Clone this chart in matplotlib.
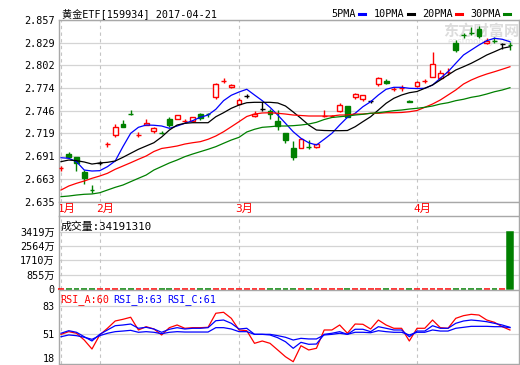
import matplotlib
matplotlib.use('Agg')
import matplotlib.pyplot as plt
from matplotlib.patches import Rectangle
from matplotlib.lines import Line2D

plt.rcParams['font.family'] = ['DejaVu Sans Mono', 'Noto Sans CJK SC']

# --- DATA ---
title = '黄金ETF[159934] 2017-04-21'
month_labels = ['1月', '2月', '3月', '4月']
month_first = [0, 5, 23, 46]

opens = [2.6758, 2.6936, 2.6895, 2.6720, 2.6499, 2.6822, 2.7051, 2.7167, 2.7301, 2.7426,
         2.7168, 2.7289, 2.7216, 2.7191, 2.7359, 2.7366, 2.7335, 2.7342, 2.7423, 2.7423,
         2.7634, 2.7823, 2.7749, 2.7542, 2.7643, 2.7403, 2.7484, 2.7460, 2.7342, 2.7188,
         2.7005, 2.7012, 2.7028, 2.7017, 2.7396, 2.7396, 2.7464, 2.7521, 2.7627, 2.7603,
         2.7578, 2.7789, 2.7830, 2.7725, 2.7738, 2.7582, 2.7769, 2.7823, 2.7878, 2.7859,
         2.7929, 2.8293, 2.8390, 2.8411, 2.8457, 2.8293, 2.8321, 2.8277, 2.8268]
highs = [2.6789, 2.6964, 2.6903, 2.6740, 2.6557, 2.6854, 2.7078, 2.7301, 2.7350, 2.7472,
         2.7204, 2.7359, 2.7268, 2.7220, 2.7383, 2.7415, 2.7359, 2.7387, 2.7439, 2.7439,
         2.7798, 2.7859, 2.7789, 2.7622, 2.7667, 2.7464, 2.7573, 2.7481, 2.7472, 2.7195,
         2.7098, 2.7134, 2.7106, 2.7063, 2.7472, 2.7411, 2.7561, 2.7525, 2.7676, 2.7655,
         2.7600, 2.7878, 2.7854, 2.7749, 2.7777, 2.7594, 2.7830, 2.7850, 2.8183, 2.7960,
         2.7988, 2.8326, 2.8415, 2.8488, 2.8497, 2.8347, 2.8363, 2.8293, 2.8305]
lows = [2.6732, 2.6883, 2.6732, 2.6566, 2.6463, 2.6801, 2.7025, 2.7147, 2.7261, 2.7417,
        2.7139, 2.7286, 2.7188, 2.7179, 2.7268, 2.7359, 2.7310, 2.7322, 2.7350, 2.7390,
        2.7610, 2.7798, 2.7737, 2.7530, 2.7619, 2.7390, 2.7464, 2.7359, 2.7228, 2.7066,
        2.6862, 2.7005, 2.6993, 2.7005, 2.7383, 2.7390, 2.7451, 2.7383, 2.7603, 2.7582,
        2.7558, 2.7765, 2.7789, 2.7708, 2.7708, 2.7564, 2.7756, 2.7798, 2.7871, 2.7847,
        2.7899, 2.8183, 2.8347, 2.8387, 2.8347, 2.8277, 2.8286, 2.8213, 2.8204]
closes = [2.6761, 2.6895, 2.6830, 2.6646, 2.6496, 2.6822, 2.7054, 2.7268, 2.7268, 2.7423,
          2.7171, 2.7317, 2.7256, 2.7188, 2.7289, 2.7408, 2.7338, 2.7383, 2.7375, 2.7420,
          2.7789, 2.7826, 2.7774, 2.7594, 2.7643, 2.7423, 2.7484, 2.7423, 2.7281, 2.7106,
          2.6903, 2.7115, 2.7025, 2.7057, 2.7399, 2.7399, 2.7533, 2.7390, 2.7667, 2.7652,
          2.7578, 2.7859, 2.7798, 2.7728, 2.7741, 2.7566, 2.7817, 2.7826, 2.8033, 2.7920,
          2.7932, 2.8204, 2.8387, 2.8408, 2.8375, 2.8318, 2.8318, 2.8277, 2.8265]

ma5 = [2.6890, 2.6883, 2.6842, 2.6740, 2.6728, 2.6732, 2.6781, 2.6850, 2.7025, 2.7188,
       2.7261, 2.7289, 2.7286, 2.7277, 2.7249, 2.7277, 2.7310, 2.7342, 2.7383, 2.7411,
       2.7481, 2.7586, 2.7652, 2.7692, 2.7725, 2.7655, 2.7586, 2.7505, 2.7411, 2.7310,
       2.7207, 2.7127, 2.7073, 2.7045, 2.7115, 2.7188, 2.7289, 2.7383, 2.7432, 2.7512,
       2.7573, 2.7655, 2.7725, 2.7749, 2.7749, 2.7737, 2.7734, 2.7737, 2.7777, 2.7859,
       2.7939, 2.8042, 2.8143, 2.8204, 2.8265, 2.8318, 2.8347, 2.8335, 2.8305]
ma10 = [2.6842, 2.6862, 2.6854, 2.6838, 2.6813, 2.6826, 2.6834, 2.6850, 2.6895, 2.6944,
        2.6993, 2.7033, 2.7073, 2.7143, 2.7228, 2.7289, 2.7310, 2.7317, 2.7317, 2.7317,
        2.7390, 2.7439, 2.7493, 2.7533, 2.7561, 2.7566, 2.7566, 2.7566, 2.7558, 2.7521,
        2.7448, 2.7371, 2.7289, 2.7228, 2.7222, 2.7220, 2.7220, 2.7222, 2.7268, 2.7330,
        2.7390, 2.7472, 2.7554, 2.7615, 2.7655, 2.7683, 2.7698, 2.7737, 2.7777, 2.7838,
        2.7899, 2.7960, 2.8000, 2.8042, 2.8091, 2.8143, 2.8183, 2.8225, 2.8244]
ma20 = [2.6496, 2.6545, 2.6578, 2.6606, 2.6639, 2.6667, 2.6700, 2.6749, 2.6789, 2.6829,
        2.6871, 2.6911, 2.6966, 2.7003, 2.7017, 2.7033, 2.7057, 2.7073, 2.7086, 2.7115,
        2.7155, 2.7207, 2.7268, 2.7330, 2.7393, 2.7423, 2.7436, 2.7439, 2.7432, 2.7423,
        2.7411, 2.7405, 2.7399, 2.7399, 2.7399, 2.7399, 2.7411, 2.7411, 2.7423, 2.7423,
        2.7432, 2.7432, 2.7439, 2.7439, 2.7442, 2.7451, 2.7466, 2.7505, 2.7545, 2.7594,
        2.7655, 2.7716, 2.7789, 2.7838, 2.7878, 2.7911, 2.7939, 2.7969, 2.8000]
ma30 = [2.6415, 2.6423, 2.6435, 2.6444, 2.6448, 2.6463, 2.6496, 2.6529, 2.6557, 2.6598,
        2.6639, 2.6679, 2.6740, 2.6783, 2.6826, 2.6862, 2.6903, 2.6935, 2.6964, 2.6993,
        2.7025, 2.7066, 2.7106, 2.7139, 2.7204, 2.7237, 2.7261, 2.7268, 2.7277, 2.7277,
        2.7281, 2.7289, 2.7301, 2.7322, 2.7356, 2.7381, 2.7390, 2.7399, 2.7411, 2.7420,
        2.7432, 2.7439, 2.7451, 2.7464, 2.7472, 2.7484, 2.7493, 2.7505, 2.7521, 2.7545,
        2.7561, 2.7586, 2.7603, 2.7627, 2.7643, 2.7667, 2.7695, 2.7716, 2.7744]
ma_names = ['5PMA', '10PMA', '20PMA', '30PMA']

volume = [0, 0, 0, 0, 0, 0, 0, 0, 0, 0,
          0, 0, 0, 0, 0, 0, 0, 0, 0, 0,
          0, 0, 0, 0, 0, 0, 0, 0, 0, 0,
          0, 0, 0, 0, 0, 0, 0, 0, 0, 0,
          0, 0, 0, 0, 0, 0, 0, 0, 0, 0,
          0, 0, 0, 0, 0, 0, 0, 0, 34191310]

rsi_a = [50.8, 53.8, 52.0, 44.4, 34.3, 50.1, 57.6, 65.8, 67.7, 70.0,
         55.7, 59.4, 56.8, 50.1, 58.3, 61.3, 57.6, 58.3, 58.3, 58.7,
         74.5, 75.6, 68.8, 55.7, 54.9, 40.7, 43.3, 40.7, 33.2, 25.6,
         20.0, 38.0, 33.2, 35.1, 55.7, 55.7, 61.3, 52.0, 62.4, 62.1,
         56.8, 66.9, 61.3, 57.6, 57.6, 43.3, 57.6, 57.6, 66.9, 58.3,
         57.6, 68.8, 71.8, 73.3, 72.5, 66.9, 64.3, 59.4, 55.7]
rsi_b = [52.0, 54.9, 53.1, 48.1, 43.3, 50.8, 55.7, 60.5, 61.3, 62.4,
         57.6, 58.7, 56.8, 53.1, 56.5, 58.3, 56.8, 57.6, 57.6, 58.3,
         66.1, 66.9, 63.2, 56.8, 57.6, 50.8, 50.8, 50.1, 47.0, 42.5,
         35.1, 41.8, 39.6, 39.9, 50.8, 52.0, 53.8, 50.8, 56.5, 56.5,
         53.8, 59.4, 57.6, 55.7, 55.7, 48.1, 54.5, 54.5, 60.5, 57.6,
         57.6, 63.2, 65.8, 66.9, 66.1, 65.0, 63.2, 61.3, 58.7]
rsi_c = [48.1, 50.1, 49.3, 47.5, 45.2, 49.3, 52.0, 53.8, 54.5, 55.3,
         53.1, 53.8, 53.1, 51.5, 53.1, 53.8, 53.4, 53.4, 53.4, 53.4,
         58.3, 58.3, 56.8, 53.8, 53.8, 50.8, 50.8, 50.8, 49.3, 47.5,
         44.4, 46.3, 45.6, 45.6, 50.1, 50.8, 52.0, 50.8, 53.1, 53.1,
         52.6, 54.9, 53.8, 53.1, 53.1, 50.1, 53.1, 53.1, 55.7, 54.5,
         54.5, 57.6, 58.7, 59.8, 59.8, 59.8, 59.4, 59.4, 58.3]
rsi_labels = ['RSI_A:60', 'RSI_B:63', 'RSI_C:61']

price_ticks = [2.635, 2.663, 2.691, 2.719, 2.746, 2.774, 2.802, 2.829, 2.857]
vol_ticks = [0, 855, 1710, 2564, 3419]
rsi_ticks = [18, 51, 83]

# --- STYLE ---
W, H = 520, 365
UP, DOWN, FLAT = '#FF0000', '#008000', '#000000'
BLUE = '#0000FF'
SPINE = '#A8A8A8'
GRID = '#D4D4D4'
VGRID = '#C4C4C4'
FS = 7.3


def fx(px): return px / W
def fy(py): return 1 - py / H


fig = plt.figure(figsize=(W / 100, H / 100), dpi=100, facecolor='white')
left, right = 59, 519
ax = fig.add_axes([fx(left), fy(202), fx(right - left), (202 - 20) / H])
axv = fig.add_axes([fx(left), fy(289), fx(right - left), (289 - 216) / H])
axr = fig.add_axes([fx(left), fy(363.5), fx(right - left), (363.5 - 290) / H])

n = len(closes)
xs = list(range(n))
xlim = (-0.26, 59.17)
w = 0.62

for a in (ax, axv, axr):
    a.set_xlim(*xlim)
    a.set_xticks([])
    a.set_facecolor('none')
    for s in a.spines.values():
        s.set_color(SPINE)
        s.set_linewidth(1)
    a.tick_params(axis='y', length=0, pad=3, labelsize=FS)
    for m in month_first:
        a.axvline(m, color=VGRID, lw=0.8, ls=(0, (3, 3)), zorder=1)

# --- main price panel ---
ax.set_ylim(2.635, 2.857)
ax.set_yticks(price_ticks)
ax.set_yticklabels([f'{t:.3f}' for t in price_ticks])
for t in price_ticks:
    ax.axhline(t, color=GRID, lw=0.9, zorder=0)

colors = []
for i, (o, h, l, c) in enumerate(zip(opens, highs, lows, closes)):
    col = UP if c > o else (DOWN if c < o else FLAT)
    colors.append(DOWN if c < o else UP)
    top, bot = max(o, c), min(o, c)
    if top - bot > 0.0008:
        if col == UP:
            ax.vlines(i, top, h, color=col, lw=1, zorder=3)
            ax.vlines(i, l, bot, color=col, lw=1, zorder=3)
            ax.add_patch(Rectangle((i - w / 2, bot), w, top - bot, facecolor='white',
                                   edgecolor=col, lw=1, zorder=3))
        else:
            ax.vlines(i, l, h, color=col, lw=1, zorder=3)
            ax.add_patch(Rectangle((i - w / 2, bot), w, top - bot, facecolor=col,
                                   edgecolor=col, lw=1, zorder=3))
    else:
        ax.vlines(i, l, h, color=col, lw=1, zorder=3)
        ax.hlines((o + c) / 2, i - w / 2, i + w / 2, color=col, lw=1, zorder=3)

ma_colors = [BLUE, '#000000', UP, DOWN]
for series, col in zip([ma5, ma10, ma20, ma30], ma_colors):
    ax.plot(xs, series, color=col, lw=0.9, zorder=4)

for lab, m in zip(month_labels, month_first):
    ax.text(m - 0.45, -0.04, lab, transform=ax.get_xaxis_transform(), color=UP,
            fontsize=8, ha='left', va='center', clip_on=False)

# title and MA legend
fig.text(fx(62), fy(14), title, fontsize=FS, ha='left', va='center')
leg_x = [331, 374, 422, 470]
for name, col, x0 in zip(ma_names, ma_colors, leg_x):
    fig.text(fx(x0), fy(14), name, fontsize=FS, ha='left', va='center')
    dx = 6.05 * len(name) + 4
    fig.add_artist(Line2D([fx(x0 + dx), fx(x0 + dx + 6)], [fy(14), fy(14)], color=col, lw=2.2))

# watermark
fig.text(fx(443), fy(31), '东方财富网', color='#DCDCDC', fontsize=11, fontweight='bold',
         family=['Noto Sans CJK SC'], ha='left', va='center', zorder=-1)
fig.text(fx(447), fy(42), 'eastmoney.com', color='#E4E4E4', fontsize=6,
         family=['DejaVu Sans'], ha='left', va='center', zorder=-1)

# border through the month strip
for xb in (left, right):
    fig.add_artist(Line2D([fx(xb), fx(xb)], [fy(202), fy(216)], color=SPINE, lw=1))

# --- volume panel ---
vol_w = [v / 1e4 for v in volume]
axv.set_ylim(0, 3419 * 73 / 57.3)
axv.set_yticks(vol_ticks)
axv.set_yticklabels([f'{t}万' if t else '0' for t in vol_ticks])
for t in vol_ticks[1:]:
    axv.axhline(t, color=GRID, lw=0.9, zorder=0)
axv.bar(xs, vol_w, width=0.75, color=colors, edgecolor=colors, lw=1.1, zorder=3, clip_on=False)
axv.spines['bottom'].set_visible(False)
axv.text(0.003, 0.86, f'成交量:{volume[-1]}', transform=axv.transAxes, fontsize=FS + 0.5,
         ha='left', va='center')

# --- RSI panel ---
axr.set_ylim(18, 100.66)
axr.set_yticks(rsi_ticks)
axr.set_yticklabels([str(t) for t in rsi_ticks])
axr.get_yticklabels()[0].set_va('bottom')
for t in rsi_ticks[1:]:
    axr.axhline(t, color=GRID, lw=0.9, zorder=0)
axr.plot(xs, rsi_a, color=UP, lw=0.9, zorder=4)
axr.plot(xs, rsi_b, color=BLUE, lw=0.9, zorder=4)
axr.plot(xs, rsi_c, color=BLUE, lw=0.9, zorder=4)
for lab, col, x0 in zip(rsi_labels, [UP, BLUE, BLUE], [60, 113, 167]):
    fig.text(fx(x0), fy(300), lab, color=col, fontsize=FS, ha='left', va='center')

fig.savefig('out.png', dpi=100)
